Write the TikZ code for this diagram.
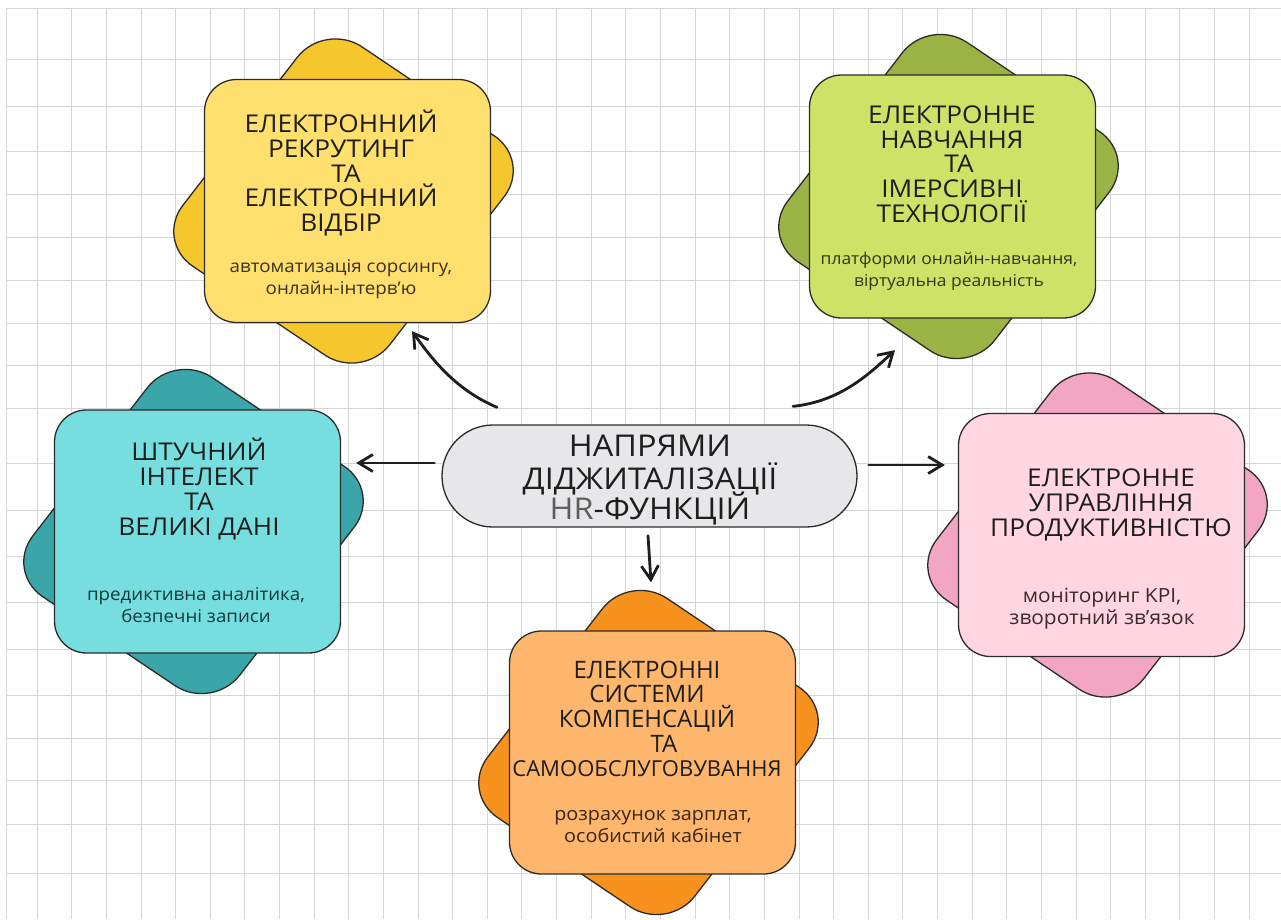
\documentclass[tikz,border=0pt]{standalone}
\usepackage{fontspec}
\setmainfont{Open Sans}
\newfontfamily\petalfont[FakeStretch=1.07]{Open Sans}
\newfontfamily\plainfont{Open Sans}
\newfontfamily\centerfont[FakeStretch=1.08]{Open Sans}
\usetikzlibrary{arrows.meta,calc}

\definecolor{gridgray}{HTML}{D6D6D6}
\definecolor{edge}{HTML}{2B2B2B}
\definecolor{ink}{HTML}{1E1E1E}
\definecolor{yelBack}{HTML}{F6C72C}
\definecolor{yelFront}{HTML}{FFDF6E}
\definecolor{yelInk}{HTML}{3A3120}
\definecolor{grnBack}{HTML}{9BB244}
\definecolor{grnFront}{HTML}{CEE268}
\definecolor{grnInk}{HTML}{2F3A14}
\definecolor{tealBack}{HTML}{3AA6AA}
\definecolor{tealFront}{HTML}{76DEDF}
\definecolor{tealInk}{HTML}{0F3A3C}
\definecolor{pinkBack}{HTML}{F2A6C4}
\definecolor{pinkFront}{HTML}{FFD6E2}
\definecolor{pinkInk}{HTML}{3A2A2F}
\definecolor{orgBack}{HTML}{F8921E}
\definecolor{orgFront}{HTML}{FDB66C}
\definecolor{orgInk}{HTML}{3A2612}
\definecolor{hubFill}{HTML}{E7E7E9}
\definecolor{hrGray}{HTML}{5E5E5E}

% lets tight line spacing win over the interline glue
\newcommand\tightlines{\lineskiplimit-40pt\relax}

% a tilted rounded square behind a rounded card
% #1 card name, #2 x, #3 y, #4 back colour, #5 card colour
\newcommand\petal[5]{%
  \begin{scope}[shift={(#2,#3)}]
    \draw[backshape, fill=#4] (184.2,-40) -- (-22.8,-179.2) -- (-192.2,40) -- (14.8,179.2) -- cycle;
  \end{scope}
  \node[frontbox, fill=#5] (#1) at (#2,#3) {};
}

\begin{document}
\begin{tikzpicture}[x=1pt,y=-1pt,
  gridline/.style={draw=gridgray, line width=0.8pt},
  backshape/.style={draw=edge, line width=1.3pt, rounded corners=45pt},
  frontbox/.style={draw=edge, line width=1.3pt, rounded corners=32pt,
    minimum width=286pt, minimum height=243pt, inner sep=0pt},
  ttl/.style={font={\petalfont\fontsize{24.5}{24.7}\selectfont\tightlines},
    align=center, text=ink, inner sep=0pt},
  sub/.style={font={\petalfont\fontsize{#1}{22}\selectfont\tightlines},
    align=center, inner sep=0pt},
  sub/.default=17.5,
  hubbox/.style={draw=edge, line width=1.3pt, fill=hubFill, rounded corners=51pt,
    minimum width=415pt, minimum height=102pt, inner sep=0pt},
  hubtext/.style={font={\centerfont\fontsize{30}{30}\selectfont\tightlines},
    align=center, text=ink, inner sep=0pt},
  arr/.style={draw=ink, line width=2.8pt, line cap=round,
    -{Straight Barb[length=14pt,width=17pt]}}
]
\useasboundingbox (0,0) rectangle (1281,919);
\fill[white] (0,0) rectangle (1281,919);

% squared paper
\begin{scope}
  \clip (6,8) rectangle (1281,919);
  \foreach \k in {1,...,36}
    \draw[gridline] ({2.4+34.63*\k},8) -- ({2.4+34.63*\k},919);
  \foreach \yy in {8,59,106,151,194,237,280,323,365,408,463,510,556,602,649,695,738,780,824,873}
    \draw[gridline] (6,\yy) -- (1281,\yy);
  \draw[gridline] (6,8) -- (6,919);
\end{scope}

% cards
\petal{rec}{347.5}{201}{yelBack}{yelFront}
\petal{learn}{952.5}{196.5}{grnBack}{grnFront}
\petal{ai}{197.5}{531.5}{tealBack}{tealFront}
\petal{perf}{1101.5}{535}{pinkBack}{pinkFront}
\petal{comp}{652.5}{752.5}{orgBack}{orgFront}

% card texts
\node[ttl] (recT) at (341,173) {ЕЛЕКТРОННИЙ\\РЕКРУТИНГ\\\hspace*{10pt}ТА\\ЕЛЕКТРОННИЙ\\ВІДБІР};
\node[sub, text=yelInk] (recS) at (341,279) {автоматизація сорсингу,\\онлайн-інтерв’ю};

\node[ttl] (learnT) at (952,164) {ЕЛЕКТРОННЕ\\НАВЧАННЯ\hspace*{14pt}\\\hspace*{14pt}ТА\\ІМЕРСИВНІ\\ТЕХНОЛОГІЇ};
\node[sub=16.3, text=grnInk] (learnS) at (949,271) {платформи онлайн-навчання,\\віртуальна реальність};

\node[ttl] (aiT) at (199,489) {ШТУЧНИЙ\\ІНТЕЛЕКТ\\ТА\hspace*{20pt}\\ВЕЛИКІ ДАНІ};
\node[sub, text=tealInk] (aiS) at (196,605) {предиктивна аналітика,\\безпечні записи};

\node[ttl] (perfT) at (1111,505) {ЕЛЕКТРОННЕ\\УПРАВЛІННЯ\\ПРОДУКТИВНІСТЮ};
\node[sub=19.5, text=pinkInk] (perfS) at (1102,609) {моніторинг KPI,\\зворотний зв’язок};

\node[ttl, font={\plainfont\fontsize{24}{24.7}\selectfont\tightlines}] (compT) at (647,719)
  {ЕЛЕКТРОННІ\\СИСТЕМИ\\КОМПЕНСАЦІЙ\\\hspace*{34pt}ТА\\{\fontsize{22}{24.7}\selectfont САМООБСЛУГОВУВАННЯ}};
\node[sub=18.5, text=orgInk] (compS) at (653,827) {розрахунок зарплат,\\особистий кабінет};

% central topic
\node[hubbox] (hub) at (649.5,476) {};
\node[hubtext] (hubT) at (650,480) {НАПРЯМИ\\[3pt]ДІДЖИТАЛІЗАЦІЇ\\{\color{hrGray}HR}-ФУНКЦІЙ};

% connectors from the centre to each card
\draw[arr] ($(hub.north)+(-152.5,-17)$) .. controls ($(hub.north)+(-194.5,-35)$) and ($(rec.south)+(84.5,36)$) .. ($(rec.south)+(64.5,8)$);
\draw[arr] ($(hub.north)+(143.5,-18)$) .. controls ($(hub.north)+(190.5,-23)$) and ($(learn.south)+(-84.5,56.5)$) .. ($(learn.south)+(-57.5,31.5)$);
\path ($(hub.west)+(-7,-13)$) coordinate (aiStart);
\draw[arr, shorten >=15pt] (aiStart) -- (ai.east |- aiStart);
\path ($(hub.east)+(11,-11)$) coordinate (perfStart);
\draw[arr, shorten >=13pt] (perfStart) -- (perf.west |- perfStart);
\draw[arr] ($(hub.south)+(-1.5,8)$) -- ($(comp.north)+(-1.5,-48)$);
\end{tikzpicture}
\end{document}
